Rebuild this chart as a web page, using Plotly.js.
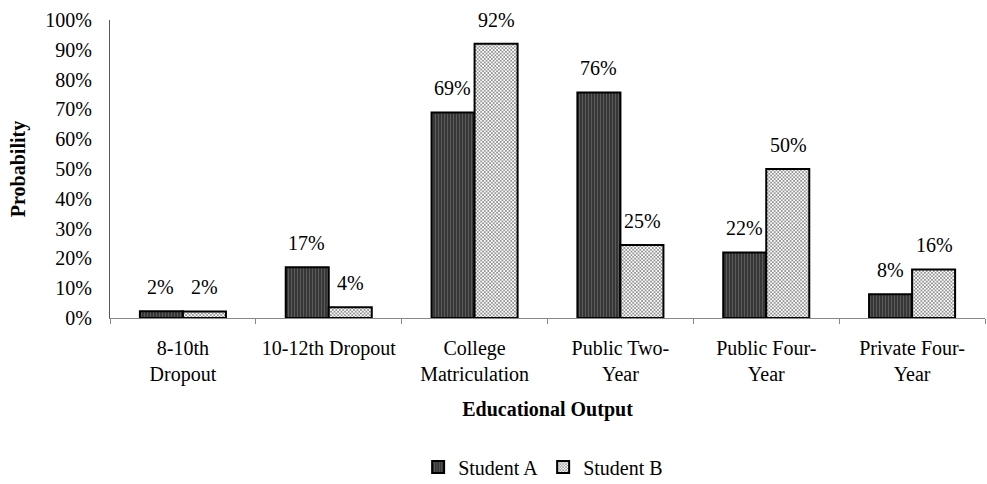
<!DOCTYPE html>
<html><head><meta charset="utf-8">
<script src="https://cdn.plot.ly/plotly-3.0.1.min.js"></script>
<style>body{margin:0;background:#fff}#c{width:987px;height:484px}</style>
</head><body><div id="c"></div>
<script>
const categories = ["8-10th<br>Dropout","10-12th Dropout","College<br>Matriculation","Public Two-<br>Year","Public Four-<br>Year","Private Four-<br>Year"];
const studentA = [0.023, 0.17, 0.69, 0.757, 0.22, 0.08];
const studentB = [0.022, 0.036, 0.92, 0.245, 0.50, 0.163];
const seriesNames = ["Student A","Student B"];
const yTickVals = [0,0.1,0.2,0.3,0.4,0.5,0.6,0.7,0.8,0.9,1.0];

const font = "Liberation Serif, Times New Roman, serif";
const FS = 20;
const traceA = {type:'bar', name:seriesNames[0], x:categories, y:studentA,
  marker:{color:'#3a3a3a', line:{color:'#000', width:2},
    pattern:{shape:'|', fgcolor:'#5a5a5a', bgcolor:'#333', size:3, solidity:0.4}}};
const traceB = {type:'bar', name:seriesNames[1], x:categories, y:studentB,
  marker:{color:'#fff', line:{color:'#000', width:2},
    pattern:{shape:'x', fgcolor:'#555', bgcolor:'#fff', size:2.5, solidity:0.4}}};

const anns = [];
[studentA, studentB].forEach((arr, si) => {
  arr.forEach((v, i) => {
    anns.push({x:categories[i], y:v, xref:'x', yref:'y', text:Math.round(v*100)+'%',
      showarrow:false, yanchor:'bottom', yshift:11, xshift: si===0 ? -22 : 22,
      font:{family:font, size:FS, color:'#000'}});
  });
});

const layout = {
  width:987, height:484,
  margin:{l:110, r:2, t:20, b:166},
  paper_bgcolor:'#fff', plot_bgcolor:'#fff',
  barmode:'group', bargap:0.41, bargroupgap:0,
  font:{family:font, size:FS, color:'#000'},
  xaxis:{showline:true, linecolor:'#888', linewidth:1, ticks:'outside', tickson:'boundaries',
    ticklen:5, tickcolor:'#888', showgrid:false, tickfont:{family:font, size:FS},
    ticklabelstandoff:12, automargin:false,
    title:{text:'<b>Educational Output</b>', font:{family:font, size:FS}, standoff:16}},
  yaxis:{range:[0,1.0], tickvals:yTickVals, tickformat:'.0%', showline:true, linecolor:'#555',
    linewidth:1, ticks:'', showgrid:false, zeroline:false, tickfont:{family:font, size:FS},
    ticklabelstandoff:13, automargin:false,
    title:{text:'<b>Probability</b>', font:{family:font, size:FS}, standoff:14}},
  legend:{orientation:'h', x:0.495, xanchor:'center', yref:'container', y:0.035, yanchor:'middle',
    font:{family:font, size:FS}, itemwidth:30, traceorder:'normal'},
  annotations:anns,
  showlegend:true
};
Plotly.newPlot('c', [traceA, traceB], layout, {displayModeBar:false, staticPlot:true});
</script></body></html>
